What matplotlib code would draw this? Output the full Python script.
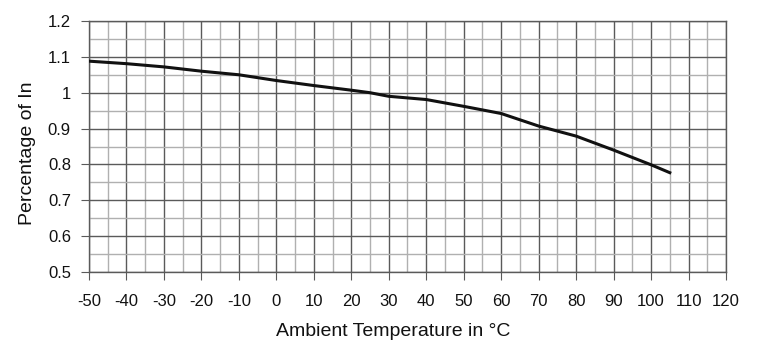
import matplotlib
matplotlib.use("Agg")
import matplotlib.pyplot as plt
from matplotlib.ticker import MultipleLocator

temps = [-50, -40, -30, -20, -10, 0, 10, 20, 25, 30, 40, 50, 60, 70, 80, 90, 100, 105]
factor = [1.088, 1.081, 1.072, 1.06, 1.05, 1.034, 1.02, 1.007, 1.0, 0.99, 0.981, 0.962, 0.942, 0.907, 0.879, 0.84, 0.799, 0.777]

xticks = list(range(-50, 121, 10))
yticks = [0.5, 0.6, 0.7, 0.8, 0.9, 1.0, 1.1, 1.2]
yticklabels = ["0.5", "0.6", "0.7", "0.8", "0.9", "1", "1.1", "1.2"]

plt.rcParams['font.family'] = ['Liberation Sans', 'DejaVu Sans']

fig = plt.figure(figsize=(7.74, 3.64), dpi=100)
ax = fig.add_axes([89/774, 1 - 272/364, (726 - 89)/774, (272 - 21)/364])

ax.set_xlim(-50, 120)
ax.set_ylim(0.5, 1.2)
ax.set_xticks(xticks)
ax.set_xticklabels([str(t) for t in xticks])
ax.set_yticks(yticks)
ax.set_yticklabels(yticklabels)
ax.xaxis.set_minor_locator(MultipleLocator(5))
ax.yaxis.set_minor_locator(MultipleLocator(0.05))

ax.grid(which='major', color='#5a5a5a', linewidth=1.0)
ax.grid(which='minor', color='#b0b0b0', linewidth=1.0)
ax.set_axisbelow(True)

for s in ax.spines.values():
    s.set_color('#5a5a5a')
    s.set_linewidth(1.0)

ax.tick_params(which='major', length=6, color='#5a5a5a', labelsize=12, pad=7, labelcolor='#111111')
ax.tick_params(axis='x', pad=10)
ax.tick_params(which='minor', length=0)

ax.plot(temps, factor, color='#111111', linewidth=2.2, zorder=3)

ax.set_xlabel("Ambient Temperature in °C", fontsize=14, color='#111111')
ax.xaxis.set_label_coords(0.477, -0.205)
ax.set_ylabel("Percentage of In", fontsize=14, color='#111111')
ax.yaxis.set_label_coords(-0.083, 0.474)

fig.savefig("out.png", dpi=100)
